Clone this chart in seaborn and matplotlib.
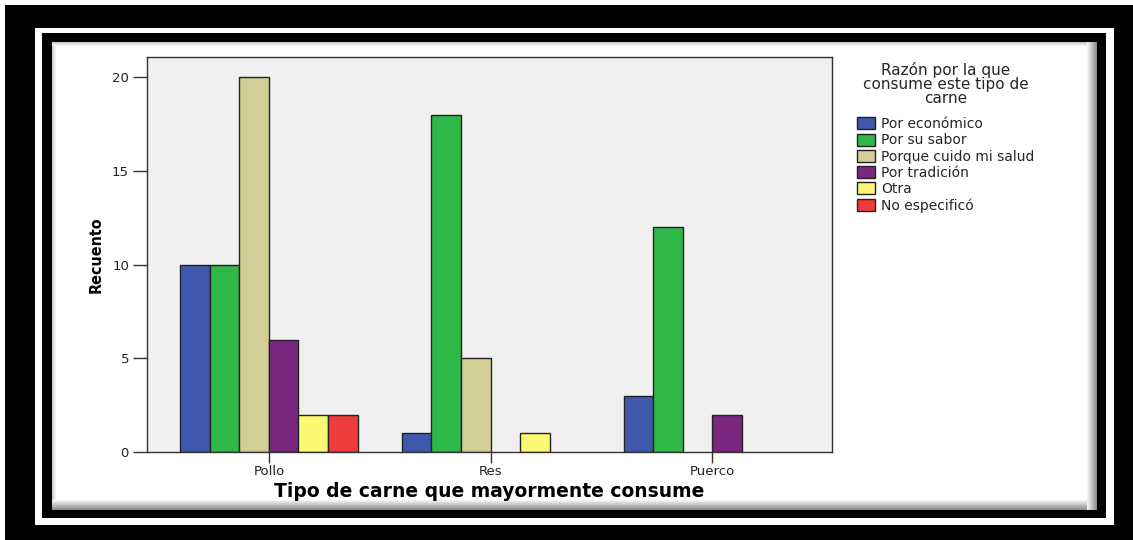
import matplotlib
matplotlib.use("Agg")
import matplotlib.pyplot as plt
from matplotlib.patches import Rectangle
import seaborn as sns
import pandas as pd

# ---- data ----
tipos = ["Pollo", "Res", "Puerco"]
razones = ["Por económico", "Por su sabor", "Porque cuido mi salud",
           "Por tradición", "Otra", "No especificó"]
pollo = [10, 10, 20, 6, 2, 2]
res = [1, 18, 5, 0, 1, 0]
puerco = [3, 12, 0, 2, 0, 0]
colores = ["#3E58AC", "#2EB848", "#D3CE97", "#7A287F", "#FBF873", "#EF3B39"]
yticks = [0, 5, 10, 15, 20]

rows = []
for t, vals in zip(tipos, [pollo, res, puerco]):
    for r, v in zip(razones, vals):
        if v > 0:
            rows.append({"Tipo": t, "Razón": r, "Recuento": v})
df = pd.DataFrame(rows)

sns.set_theme(style="white")
plt.rcParams["font.family"] = ["DejaVu Sans"]

W, H = 1133, 540
fig = plt.figure(figsize=(W / 100, H / 100), dpi=100)
fig.patch.set_facecolor("white")


def rect_px(x0, y0, x1, y1, color, z):
    r = Rectangle((x0 / W, 1 - y1 / H), (x1 - x0) / W, (y1 - y0) / H,
                  transform=fig.transFigure, facecolor=color, edgecolor="none",
                  zorder=z)
    fig.add_artist(r)
    r.set_zorder(z)
    return r

# decorative frame (drawn behind axes)
rect_px(5, 5, 1133, 540, "black", -10)
rect_px(35, 28, 1114, 525, "white", -9)
rect_px(42, 33, 1106, 518, "black", -8)
rect_px(52, 42, 1097, 510, "white", -7)
# soft inner shadow along the edges of the white panel
n = 10
for i in range(n):
    g = 0.55 + 0.045 * i  # dark at the edge, lighter inward
    rect_px(1097 - 1 - i, 42, 1097 - i, 510, (g, g, g), -6 + i * 0.01)
    rect_px(52, 510 - 1 - i, 1097 - i, 510 - i, (g, g, g), -6 + i * 0.01)
for i in range(4):
    g = 0.80 + 0.05 * i
    rect_px(52, 42 + i, 1097 - n, 43 + i, (g, g, g), -5.9)
    rect_px(52 + i, 42 + i, 53 + i, 510 - n, (g, g, g), -5.9)

ax = fig.add_axes([147 / W, 1 - 452 / H, (832 - 147) / W, (452 - 57) / H])
ax.set_facecolor("#F0F0F0")

sns.barplot(data=df, x="Tipo", y="Recuento", hue="Razón",
            order=tipos, hue_order=razones, palette=colores,
            errorbar=None, width=0.8, edgecolor="#222222", linewidth=1.0,
            saturation=1, ax=ax)

ax.set_xlim(-0.55, 2.54)
ax.set_ylim(0, 21.07)
ax.set_yticks(yticks)
ax.set_yticklabels([str(v) for v in yticks])
for s in ax.spines.values():
    s.set_visible(True)
    s.set_color("#333333")
    s.set_linewidth(1.0)
ax.tick_params(axis="both", which="both", direction="out", width=1.0,
               color="#333333", labelsize=9.5, labelcolor="#222222",
               left=True, bottom=True)
ax.tick_params(axis="y", length=10, pad=3)
ax.tick_params(axis="x", length=8, pad=1.5)
ax.set_xlabel("Tipo de carne que mayormente consume", fontsize=13.5,
              fontweight="bold", labelpad=3, color="black")
ax.set_ylabel("Recuento", fontsize=11.5, fontweight="bold", labelpad=6,
              color="black", fontstretch="condensed")

sns.move_legend(ax, "upper left",
                bbox_to_anchor=(857 / W, 1 - 62 / H),
                bbox_transform=fig.transFigure,
                title="Razón por la que\nconsume este tipo de\ncarne",
                frameon=False, fontsize=10, title_fontsize=11,
                handlelength=1.3, handleheight=0.95, handletextpad=0.45,
                labelspacing=0.16, borderaxespad=0, borderpad=0)
leg = ax.get_legend()
leg.get_title().set_multialignment("center")
leg.get_title().set_linespacing(0.92)
try:
    leg._legend_box.sep = 8
except Exception:
    pass
for h in leg.legend_handles:
    h.set_edgecolor("#222222")
    h.set_linewidth(1.0)

fig.savefig("out.png", dpi=100)
